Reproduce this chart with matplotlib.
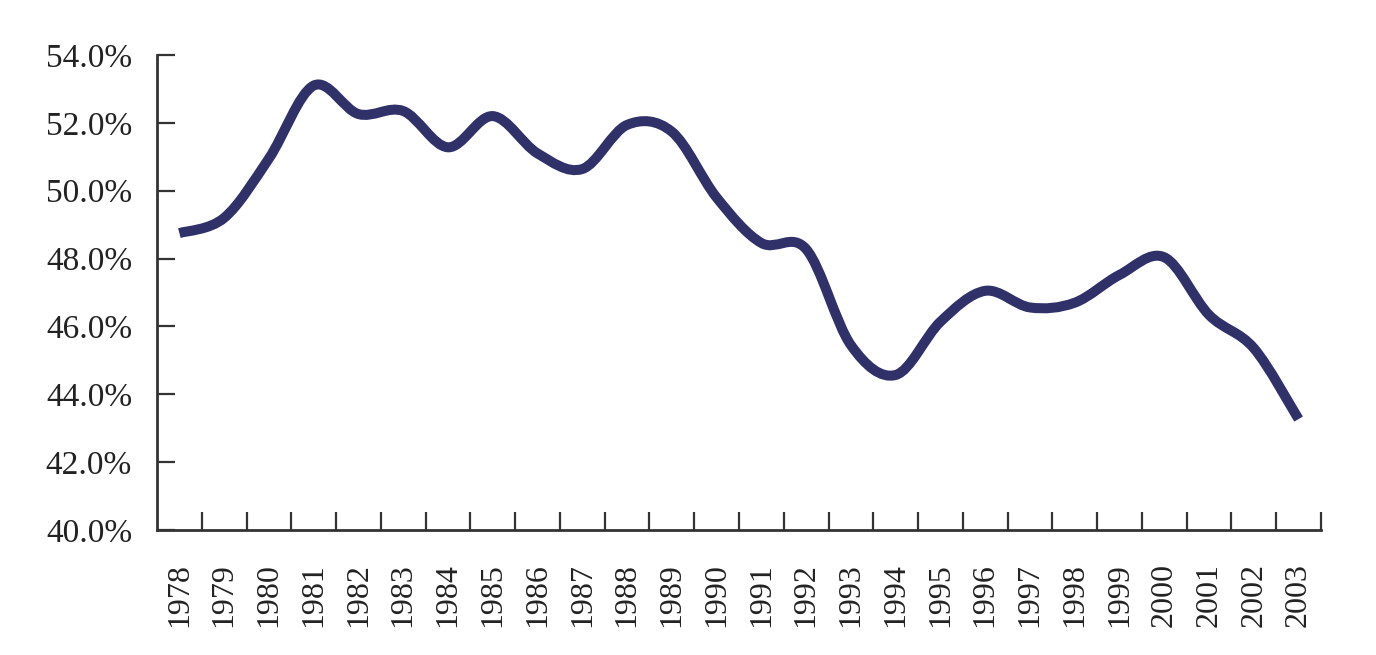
import numpy as np
import matplotlib.pyplot as plt
from matplotlib.path import Path
from matplotlib.patches import PathPatch
from matplotlib.ticker import FuncFormatter

plt.rcParams['font.family'] = ['Liberation Serif', 'DejaVu Serif']

# data (share, %)
years = [str(y) for y in range(1978, 2004)]
share = [48.75, 49.2, 50.95, 53.1, 52.26, 52.35, 51.28, 52.2, 51.1, 50.64,
         51.94, 51.74, 49.8, 48.46, 48.28, 45.45, 44.57, 46.14, 47.05, 46.56,
         46.7, 47.52, 48.04, 46.34, 45.36, 43.27]
y_ticks = [40, 42, 44, 46, 48, 50, 52, 54]

line_color = '#2f3168'
axis_color = '#333333'


def smooth_path(x, y, t=1 / 6):
    # Bezier through the data points, like a spreadsheet "smoothed line"
    x = np.asarray(x, float)
    y = np.asarray(y, float)
    n = len(x)
    verts = [(x[0], y[0])]
    codes = [Path.MOVETO]
    for i in range(n - 1):
        i0 = max(i - 1, 0)
        i3 = min(i + 2, n - 1)
        c1 = (x[i] + (x[i + 1] - x[i0]) * t, y[i] + (y[i + 1] - y[i0]) * t)
        c2 = (x[i + 1] - (x[i3] - x[i]) * t, y[i + 1] - (y[i3] - y[i]) * t)
        verts += [c1, c2, (x[i + 1], y[i + 1])]
        codes += [Path.CURVE4] * 3
    return Path(verts, codes)


fig = plt.figure(figsize=(13.76, 6.55), dpi=100)
ax = fig.add_axes([0.1141, 0.1908, 0.8459, 0.7252])

xs = np.arange(len(years))
ax.add_patch(PathPatch(smooth_path(xs, share), facecolor='none',
                       edgecolor=line_color, lw=7.2, capstyle='butt',
                       joinstyle='round'))

ax.set_xlim(-0.5, len(years) - 0.5)
ax.set_ylim(40, 54)

ax.set_yticks(y_ticks)
ax.yaxis.set_major_formatter(FuncFormatter(lambda v, p: f'{v:.1f}%'))
ax.tick_params(axis='y', direction='in', length=13, width=1.6,
               color=axis_color, labelsize=24, pad=18, labelcolor='#222222')

ax.set_xticks(xs)
ax.set_xticklabels(years, rotation=90)
ax.set_xticks(xs + 0.5, minor=True)
ax.tick_params(axis='x', which='major', length=0, labelsize=23, pad=24,
               labelcolor='#222222')
ax.tick_params(axis='x', which='minor', direction='in', length=13,
               width=1.6, color=axis_color)

for side in ['top', 'right']:
    ax.spines[side].set_visible(False)
for side in ['left', 'bottom']:
    ax.spines[side].set_color(axis_color)
    ax.spines[side].set_linewidth(2)

fig.savefig('out.png', dpi=100)
